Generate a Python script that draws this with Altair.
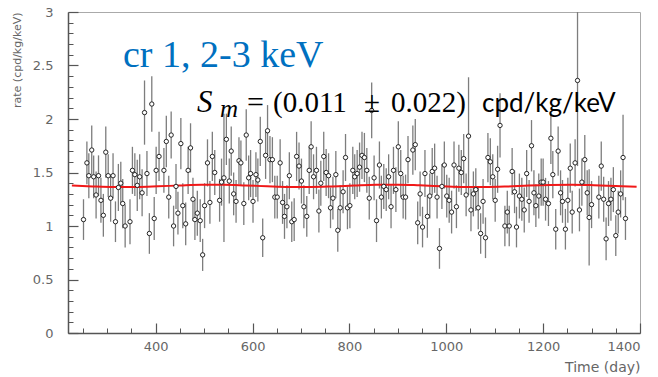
import altair as alt
import pandas as pd

# ---------------- data ----------------
days_a = [251, 258, 262, 268, 272, 277, 282, 287, 292, 297, 302, 307, 312, 317, 323, 328, 332, 337, 347, 352,
          357, 362, 367, 372, 377, 382, 387, 392, 397, 401, 407, 417, 422, 427, 432, 437, 442, 446, 452, 456]
rate_a = [1.06, 1.59, 1.47, 1.71, 1.46, 1.29, 1.47, 1.24, 1.10, 1.69, 1.47, 1.26, 1.47, 1.04, 1.36, 1.40, 1.21, 1.00, 1.04, 1.52,
          1.48, 1.38, 1.46, 1.31, 2.06, 1.49, 0.93, 2.14, 1.07, 1.52, 1.65, 1.52, 1.79, 1.27, 1.85, 1.00, 1.37, 1.12, 1.77, 1.19]
err_a = [0.19, 0.20, 0.21, 0.23, 0.20, 0.22, 0.19, 0.21, 0.20, 0.24, 0.20, 0.22, 0.21, 0.19, 0.22, 0.20, 0.23, 0.20, 0.21, 0.22,
         0.20, 0.24, 0.21, 0.22, 0.30, 0.21, 0.19, 0.26, 0.20, 0.22, 0.23, 0.21, 0.24, 0.20, 0.22, 0.19, 0.21, 0.20, 0.24, 0.21]

days_b = [462, 467, 472, 477, 481, 486, 492, 497, 501, 507, 512, 517, 522, 532, 536, 541, 546, 552, 556, 561, 566, 572, 576,
          582, 587, 592, 596, 601, 607, 611, 616, 621, 627, 631, 636, 641, 646, 651, 657, 662, 666, 671, 676, 681, 686, 691]
rate_b = [1.02, 1.52, 1.73, 1.25, 1.06, 1.12, 1.05, 0.73, 1.19, 1.59, 1.22, 1.65, 1.50, 1.24, 1.41, 1.45, 1.81, 1.42, 1.70, 1.30, 1.23, 1.61, 1.59,
          1.21, 1.85, 1.45, 1.49, 1.23, 1.48, 1.43, 1.79, 0.89, 1.66, 1.89, 1.62, 1.62, 1.27, 1.27, 1.59, 1.22, 1.09, 1.18, 1.47, 1.04, 1.06, 1.65]
err_b = [0.20, 0.22, 0.23, 0.20, 0.19, 0.21, 0.20, 0.15, 0.21, 0.22, 0.20, 0.23, 0.21, 0.20, 0.22, 0.60, 0.24, 0.21, 0.23, 0.20, 0.20, 0.22, 0.21,
         0.20, 0.24, 0.21, 0.22, 0.20, 0.21, 0.20, 0.23, 0.18, 0.22, 0.24, 0.22, 0.21, 0.20, 0.20, 0.22, 0.20, 0.21, 0.20, 0.22, 0.19, 0.20, 0.23]

days_c = [696, 701, 706, 712, 717, 721, 726, 732, 737, 741, 747, 752, 757, 761, 766, 772, 776, 781, 787, 792, 796, 801, 807,
          811, 816, 821, 826, 831, 836, 841, 846, 851, 856, 862, 866, 871, 876, 881, 886, 891, 896, 901, 906, 911, 916, 921]
rate_c = [1.56, 1.42, 1.18, 1.09, 1.52, 1.74, 1.46, 1.52, 1.14, 1.40, 1.65, 1.50, 1.47, 1.17, 1.26, 1.48, 0.96, 1.17, 1.32, 1.64, 1.17, 1.19, 1.52,
          1.46, 1.49, 1.55, 1.66, 1.64, 1.52, 1.26, 2.08, 1.45, 1.05, 1.57, 1.27, 1.37, 1.34, 1.46, 1.18, 1.52, 1.34, 1.74, 1.49, 1.27, 1.27, 1.62]
err_c = [0.22, 0.21, 0.20, 0.19, 0.22, 0.24, 0.21, 0.22, 0.20, 0.21, 0.23, 0.22, 0.21, 0.19, 0.20, 0.22, 0.20, 0.21, 0.20, 0.22, 0.20, 0.21, 0.22,
         0.21, 0.22, 0.23, 0.22, 0.23, 0.21, 0.20, 0.26, 0.21, 0.20, 0.22, 0.20, 0.21, 0.20, 0.21, 0.20, 0.22, 0.21, 0.24, 0.22, 0.20, 0.21, 0.22]

days_d = [931, 936, 941, 946, 951, 956, 961, 966, 971, 976, 981, 986, 991, 996, 1001, 1006, 1011, 1016, 1021, 1026, 1031, 1036, 1041,
          1046, 1051, 1056, 1061, 1066, 1071, 1076, 1081, 1086, 1091, 1096, 1101, 1106, 1111, 1121, 1126, 1130, 1136, 1141, 1145, 1151, 1156, 1161]
rate_d = [1.71, 1.76, 1.03, 1.30, 0.99, 1.49, 1.09, 1.28, 1.51, 1.54, 1.27, 0.79, 1.37, 1.57, 1.28, 1.24, 1.13, 1.57, 1.18, 1.54, 1.50, 1.63, 1.29,
          1.84, 1.15, 1.30, 1.34, 1.17, 0.93, 1.23, 0.89, 1.64, 1.60, 1.46, 1.24, 1.53, 1.94, 1.00, 1.13, 1.00, 1.51, 1.32, 0.99, 1.28, 1.25, 1.15]
err_d = [0.23, 0.24, 0.20, 0.21, 0.19, 0.22, 0.20, 0.21, 0.22, 0.23, 0.20, 0.19, 0.21, 0.22, 0.20, 0.21, 0.20, 0.22, 0.20, 0.22, 0.21, 0.23, 0.20,
         0.55, 0.20, 0.21, 0.20, 0.20, 0.19, 0.21, 0.19, 0.23, 0.22, 0.21, 0.20, 0.22, 0.30, 0.19, 0.20, 0.19, 0.22, 0.20, 0.19, 0.21, 0.20, 0.21]

days_e = [1166, 1171, 1176, 1181, 1185, 1191, 1196, 1200, 1205, 1211, 1216, 1220, 1226, 1231, 1236, 1240, 1246, 1251, 1256, 1260,
          1266, 1271, 1275, 1280, 1286, 1291, 1295, 1300, 1315, 1320, 1325, 1330, 1335, 1340, 1345, 1350, 1355, 1360, 1365, 1370]
rate_e = [1.49, 1.23, 1.75, 1.31, 1.19, 1.28, 1.41, 1.41, 1.25, 1.21, 1.82, 1.48, 0.97, 1.70, 1.31, 1.23, 0.97, 1.24, 1.54, 1.13,
          1.59, 2.36, 1.15, 1.41, 1.62, 1.31, 1.08, 1.20, 1.27, 1.56, 1.25, 0.88, 1.21, 1.25, 1.34, 0.91, 1.13, 1.30, 1.64, 1.07]
err_e = [0.22, 0.20, 0.24, 0.21, 0.20, 0.21, 0.22, 0.22, 0.20, 0.21, 0.24, 0.22, 0.19, 0.23, 0.21, 0.20, 0.19, 0.21, 0.23, 0.20,
         0.22, 0.80, 0.20, 0.22, 0.23, 0.21, 0.45, 0.22, 0.20, 0.23, 0.21, 0.20, 0.21, 0.20, 0.21, 0.19, 0.20, 0.22, 0.40, 0.20]

fit_day = [227, 270, 315, 360, 405, 450, 495, 540, 585, 630, 675, 720, 765, 810,
           855, 900, 945, 990, 1035, 1080, 1125, 1170, 1215, 1260, 1305, 1350, 1393]
fit_rate = [1.378, 1.370, 1.365, 1.365, 1.371, 1.379, 1.385, 1.385, 1.379, 1.371, 1.365, 1.365, 1.370, 1.378,
            1.385, 1.386, 1.380, 1.372, 1.365, 1.364, 1.369, 1.378, 1.384, 1.386, 1.381, 1.373, 1.366]

x_major = [400, 600, 800, 1000, 1200, 1400]
x_minor = [250, 300, 350, 450, 500, 550, 650, 700, 750, 850, 900, 950, 1050, 1100, 1150, 1250, 1300, 1350]
y_major = [0, 0.5, 1, 1.5, 2, 2.5, 3]
y_minor = [0.1, 0.2, 0.3, 0.4, 0.6, 0.7, 0.8, 0.9, 1.1, 1.2, 1.3, 1.4, 1.6, 1.7, 1.8, 1.9,
           2.1, 2.2, 2.3, 2.4, 2.6, 2.7, 2.8, 2.9]

title_text = "cr 1, 2-3 keV"
x_title = "Time (day)"
y_title = "rate (cpd/kg/keV)"

# ---------------- build tables ----------------
df = pd.DataFrame({
    "day": days_a + days_b + days_c + days_d + days_e,
    "rate": rate_a + rate_b + rate_c + rate_d + rate_e,
    "err": err_a + err_b + err_c + err_d + err_e,
})
df["lo"] = df["rate"] - df["err"]
df["hi"] = df["rate"] + df["err"]
fit = pd.DataFrame({"day": fit_day, "rate": fit_rate})

W, H = 572, 321
FONT = "DejaVu Sans"
LBL = "#666666"
AX = "#555555"

xs = alt.Scale(domain=[219, 1400], nice=False, zero=False)
ys = alt.Scale(domain=[0, 3], nice=False)

x_lab_axis = alt.Axis(orient="bottom", values=x_major, format="d", grid=False, ticks=False, tickSize=0,
                      domain=True, domainColor=AX, domainWidth=1.5, labelFont=FONT, labelFontSize=13,
                      labelColor=LBL, labelPadding=7, title=x_title, titleFont=FONT, titleFontSize=14,
                      titleFontWeight="normal", titleColor=LBL, titleAlign="right", titleX=W, titleY=38,
                      titleBaseline="alphabetic")
y_lab_axis = alt.Axis(orient="left", values=y_major, format="~g", grid=False, ticks=False, tickSize=0,
                      domain=True, domainColor=AX, domainWidth=1.5, labelFont=FONT, labelFontSize=13,
                      labelColor=LBL, labelPadding=15, title=y_title, titleFont=FONT, titleFontSize=11,
                      titleFontWeight="normal", titleColor=LBL, titleAngle=270, titleAlign="right",
                      titleBaseline="middle", titleX=-51, titleY=0)

x_maj_axis = alt.Axis(orient="bottom", values=x_major, offset=-10, tickSize=10, labels=False, domain=False,
                      grid=False, title=None, tickColor=AX, tickWidth=1.2)
y_maj_axis = alt.Axis(orient="left", values=y_major, offset=-10, tickSize=10, labels=False, domain=False,
                      grid=False, title=None, tickColor=AX, tickWidth=1.2)
x_min_axis = alt.Axis(orient="bottom", values=x_minor, offset=-5, tickSize=5, labels=False, domain=False,
                      grid=False, title=None, tickColor=AX, tickWidth=1)
y_min_axis = alt.Axis(orient="left", values=y_minor, offset=-5, tickSize=5, labels=False, domain=False,
                      grid=False, title=None, tickColor=AX, tickWidth=1)

bars = alt.Chart(df).mark_rule(color="#7d7d7d", strokeWidth=1.3, clip=True).encode(
    x=alt.X("day:Q", scale=xs, axis=x_lab_axis),
    y=alt.Y("lo:Q", scale=ys, axis=y_lab_axis),
    y2="hi:Q",
)

line = alt.Chart(fit).mark_line(color="#f01818", strokeWidth=2, interpolate="monotone", clip=True).encode(
    x=alt.X("day:Q", scale=xs, axis=x_min_axis),
    y=alt.Y("rate:Q", scale=ys, axis=y_min_axis),
)

points = alt.Chart(df).mark_point(shape="circle", size=19, fill="white", fillOpacity=1, stroke="#111111",
                                  strokeWidth=0.9, opacity=1, clip=True).encode(
    x=alt.X("day:Q", scale=xs, axis=x_maj_axis),
    y=alt.Y("rate:Q", scale=ys, axis=y_maj_axis),
)


def label(txt, x, y, size, font, color="#000000", style="normal"):
    return alt.Chart(pd.DataFrame({"t": [txt]})).mark_text(
        align="left", baseline="alphabetic", font=font, fontSize=size, fontStyle=style, color=color
    ).encode(text="t:N", x=alt.value(x), y=alt.value(y))


texts = [
    label(title_text, 55, 55, 38, "Liberation Serif", color="#0070C0"),
    label("S", 129, 100, 31, "Liberation Serif", style="italic"),
    label("m", 152, 105, 25, "Liberation Serif", style="italic"),
    label("=", 179, 100, 30, "Liberation Serif"),
    label("(0.011", 205, 100, 29, "Liberation Serif"),
    label("±", 296, 100, 29, "Liberation Serif"),
    label("0.022)", 323, 100, 29, "Liberation Serif"),
    label("cpd/kg/keV", 414, 100, 26, "Lato"),
]

chart = alt.layer(bars, line, points, *texts).resolve_axis(
    x="independent", y="independent"
).properties(
    width=W, height=H,
    autosize=alt.AutoSizeParams(type="none"),
    padding={"left": 68, "top": 12, "right": 18, "bottom": 44},
    background="white",
).configure_view(stroke="#aaaaaa", strokeWidth=1)

chart.save("out.html", embed_options={"renderer": "svg", "actions": False})
